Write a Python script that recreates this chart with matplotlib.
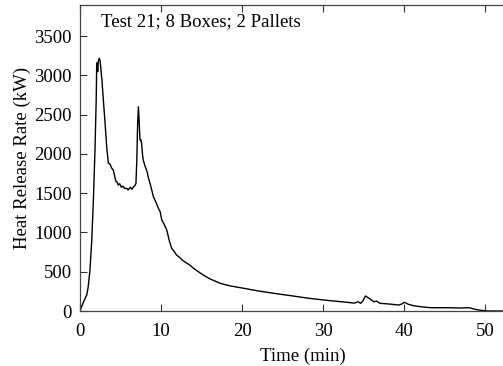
import matplotlib
matplotlib.use("Agg")
import matplotlib.pyplot as plt

time_min = [0.0, 0.2, 0.5, 0.83, 1.0, 1.23, 1.45, 1.65, 1.85, 2.0, 2.06, 2.12, 2.18, 2.25, 2.32, 2.39,
            2.48, 2.55, 2.7, 2.88, 3.1, 3.29, 3.5, 3.7, 3.9, 4.1, 4.2, 4.3, 4.45, 4.6, 4.7, 4.9,
            5.1, 5.3, 5.5, 5.76, 5.95, 6.2, 6.4, 6.6, 6.8, 6.9, 7.0, 7.1, 7.2, 7.3, 7.4, 7.5,
            7.6, 7.7, 7.8, 8.0, 8.2, 8.3, 8.4, 8.7, 9.05, 9.3, 9.67, 9.9, 10.08, 10.4, 10.7,
            11.0, 11.3, 11.6, 11.9, 12.3, 12.7, 13.2, 13.6, 14.0, 14.6, 15.2, 16.0, 17.3,
            18.5, 20.2, 22.0, 23.9, 26.0, 28.2, 30.5, 32.9, 33.8, 34.3, 34.6, 34.9, 35.2,
            35.6, 36.2, 36.6, 37.0, 38.0, 39.3, 39.7, 40.0, 40.5, 41.1, 42.0, 43.2, 45.3,
            47.0, 48.0, 48.6, 49.2, 49.8, 50.5, 52.0, 55.0]
hrr_kw = [0, 55, 130, 204, 300, 522, 900, 1413, 2050, 2700, 3152, 3160, 3046, 3170, 3200, 3216,
          3180, 3110, 2950, 2685, 2380, 2091, 1880, 1870, 1820, 1795, 1752, 1700, 1646, 1640, 1604, 1620,
          1575, 1590, 1560, 1561, 1540, 1575, 1550, 1582, 1600, 1625, 1900, 2350, 2600, 2400, 2176, 2180,
          2134, 2000, 1922, 1850, 1795, 1760, 1710, 1600, 1455, 1400, 1307, 1260, 1158, 1100, 1031,
          900, 798, 760, 713, 680, 640, 607, 580, 543, 500, 458, 410, 352,
          320, 289, 255, 225, 195, 162, 135, 111, 100, 118, 98, 130, 191,
          165, 119, 125, 98, 90, 76, 90, 111, 85, 68, 55, 42, 42,
          38, 42, 25, 12, 4, 0, 0, 0]

x_ticks = [0, 10, 20, 30, 40, 50]
y_ticks = [0, 500, 1000, 1500, 2000, 2500, 3000, 3500]
title_text = "Test 21; 8 Boxes; 2 Pallets"

plt.rcParams['font.family'] = ['Liberation Serif', 'DejaVu Serif']
plt.rcParams['font.size'] = 13.5

fig = plt.figure(figsize=(5.03, 3.66), dpi=100)
ax = fig.add_axes([80/503, 55/366, 446/503, 306/366])
ax.plot(time_min, hrr_kw, color='black', lw=1.0)
ax.set_xlim(0, 55)
ax.set_ylim(0, 3895)
ax.set_xticks(x_ticks)
ax.set_yticks(y_ticks)
ax.tick_params(direction='in', length=5, width=0.8, top=True, right=False, colors='#333333',
               labelcolor='black')
ax.tick_params(axis='x', pad=9)
ax.tick_params(axis='y', pad=6)
for s in ax.spines.values():
    s.set_color('#444444')
    s.set_linewidth(0.9)
ax.set_xlabel("Time (min)", labelpad=5)
ax.set_ylabel("Heat Release Rate (kW)", labelpad=2)
ax.text(2.6, 3678, title_text, va='center', ha='left')

fig.savefig("out.png", dpi=100)
